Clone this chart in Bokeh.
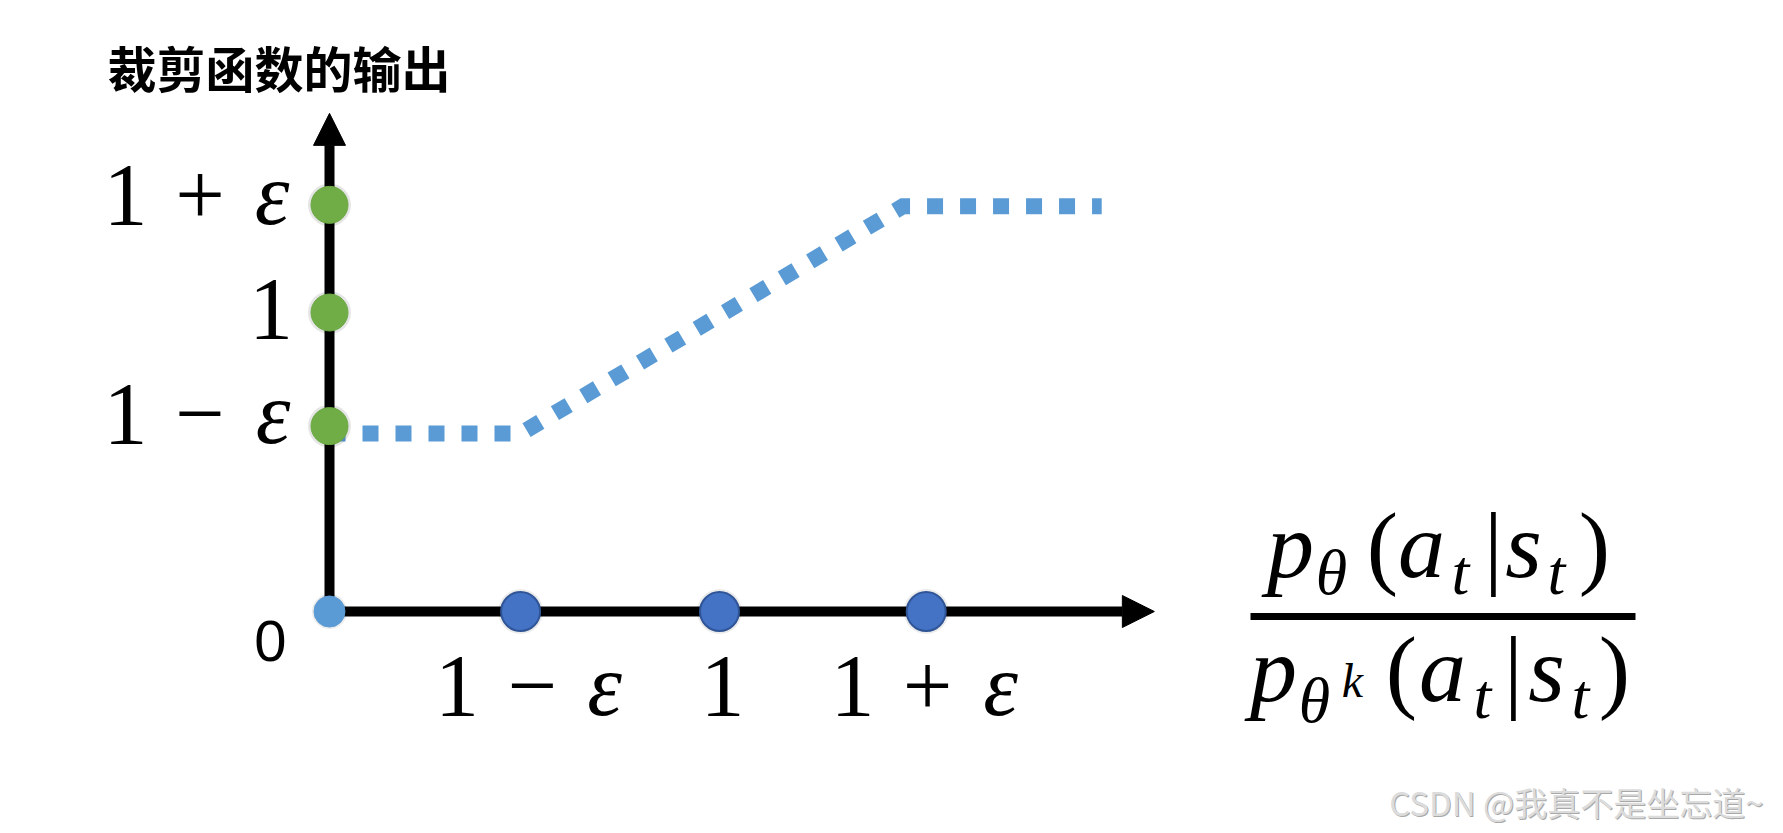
from bokeh.plotting import figure
from bokeh.models import Range1d, Label, Arrow, NormalHead
from bokeh.embed import file_html
from bokeh.resources import INLINE

# ---------------- data ----------------
title_text = "裁剪函数的输出"
watermark_text = "CSDN @我真不是坐忘道~"
x_tick_values = [0.49, 1.0, 1.53]          # 1-ε, 1, 1+ε on the ratio axis
y_tick_values = [0.62, 1.0, 1.36]          # 1-ε, 1, 1+ε on the output axis
origin_value = [0.0]
clip_x = [0.0, 0.49, 1.47, 1.98]           # clipped-function curve
clip_y = [0.595, 0.595, 1.355, 1.355]
axis_x_end = 2.115
axis_y_end = 1.666

# ---------------- pixel <-> data helpers (layout only) ----------------
X0, XU, Y0, YU = 329.0, 390.0, 611.0, 299.0
def fx(px):
    return (px - X0) / XU
def fy(py):
    return (Y0 - py) / YU

W, H = 1775, 825
p = figure(width=W, height=H, x_range=Range1d(fx(0), fx(W)),
           y_range=Range1d(fy(H), fy(0)), min_border=0,
           toolbar_location=None, output_backend="svg",
           x_axis_location=None, y_axis_location=None,
           outline_line_color=None, background_fill_color="white",
           border_fill_color="white")
p.grid.grid_line_color = None

# axes with arrow heads (drawn beneath the dots)
p.add_layout(Arrow(end=NormalHead(size=32, fill_color="black", line_color="black", line_width=1),
                   x_start=fx(323), y_start=0, x_end=axis_x_end, y_end=0,
                   line_width=10, line_color="black", level="underlay"))
p.add_layout(Arrow(end=NormalHead(size=32, fill_color="black", line_color="black", line_width=1),
                   x_start=0, y_start=fy(617), x_end=0, y_end=axis_y_end,
                   line_width=10, line_color="black", level="underlay"))

# clipped curve
p.line(clip_x, clip_y, line_width=16, line_dash="16 17", line_color="#5B9BD5",
       line_cap="butt", line_join="miter")

# dot shadows
p.scatter([0] * len(y_tick_values), y_tick_values, size=43, fill_color="black",
          fill_alpha=0.10, line_color=None)
p.scatter(x_tick_values, [0] * len(x_tick_values), size=45, fill_color="black",
          fill_alpha=0.08, line_color=None)
p.scatter(origin_value, [0], size=35, fill_color="black", fill_alpha=0.08, line_color=None)

# dots
p.scatter([0] * len(y_tick_values), y_tick_values, size=37, fill_color="#70AD47",
          line_color="#6AA843", line_width=1)
p.scatter(x_tick_values, [0] * len(x_tick_values), size=39, fill_color="#4472C4",
          line_color="#2F5597", line_width=2)
p.scatter(origin_value, [0], size=31, fill_color="#5B9BD5", line_color="#5B9BD5")

SERIF = "Liberation Serif"

def lab(cx, base, text, size=88, style="normal", font=SERIF, align="center",
        baseline="alphabetic", color="black", shift=None):
    if shift is None:
        shift = 0.36 * size if baseline == "alphabetic" else 0.0
    p.add_layout(Label(x=fx(cx), y=fy(base - shift), text=text, text_align=align,
                       text_baseline=baseline, text_font=font,
                       text_font_size=f"{size}px",
                       text_font_style=style, text_color=color))

# title
lab(107, 66, title_text, size=49, style="bold", font="Noto Sans CJK SC",
    align="left", baseline="middle")

# y tick labels
lab(125, 226, "1"); lab(199.5, 226, "+"); lab(271.5, 226, "ε", style="italic")
lab(270.5, 340, "1")
lab(125, 445, "1"); lab(199.5, 445, "−"); lab(272.5, 445, "ε", style="italic")

# x tick labels
lab(456.5, 717, "1"); lab(532, 717, "−"); lab(604, 717, "ε", style="italic")
lab(722, 717, "1")
lab(852, 717, "1"); lab(927, 717, "+"); lab(1000, 717, "ε", style="italic")

# origin "0"
lab(270, 661, "0", size=58, font="Liberation Sans")

# fraction p_θ(a_t|s_t) / p_θ^k(a_t|s_t)
NB, DB = 578, 702
M = 94
SUB = 64
lab(1290, NB, "p", size=M, style="italic")
lab(1331, NB + 17, "θ", size=SUB, style="italic")
lab(1382, NB, "(", size=M)
lab(1421, NB, "a", size=M, style="italic")
lab(1460, NB + 17, "t", size=SUB, style="italic")
lab(1493, NB, "|", size=M)
lab(1523, NB, "s", size=M, style="italic")
lab(1556, NB + 17, "t", size=SUB, style="italic")
lab(1594, NB, ")", size=M)

p.segment(x0=[fx(1250)], y0=[fy(616)], x1=[fx(1635)], y1=[fy(616)],
          line_width=7, line_color="black")

lab(1273, DB, "p", size=M, style="italic")
lab(1314, DB + 21, "θ", size=SUB, style="italic")
lab(1352, DB - 5, "k", size=48, style="italic")
lab(1401, DB, "(", size=M)
lab(1442, DB, "a", size=M, style="italic")
lab(1482, DB + 17, "t", size=SUB, style="italic")
lab(1513, DB, "|", size=M)
lab(1546, DB, "s", size=M, style="italic")
lab(1580, DB + 17, "t", size=SUB, style="italic")
lab(1614, DB, ")", size=M)

# watermark
lab(1764, 802, watermark_text, size=33, font="Noto Sans CJK SC", align="right",
    baseline="middle", color="#a8a8a8")
lab(1763, 801, watermark_text, size=33, font="Noto Sans CJK SC", align="right",
    baseline="middle", color="#dcdcdc")

open("out.html", "w").write(file_html(p, INLINE))
